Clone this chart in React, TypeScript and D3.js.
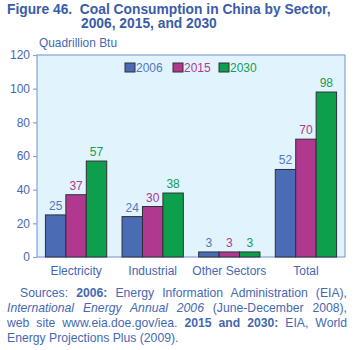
import React, { useEffect, useRef } from 'react';
import * as d3 from 'd3';

const sectors = ['Electricity', 'Industrial', 'Other Sectors', 'Total'];
const years = ['2006', '2015', '2030'];
const values2006 = [25, 24, 3, 52];
const values2015 = [37, 30, 3, 70];
const values2030 = [57, 38, 3, 98];
const yTicks = [0, 20, 40, 60, 80, 100, 120];

const barColors = ['#4a6cb4', '#b0398f', '#0d9f4c'];
const labelColors = ['#5577be', '#b0398f', '#139e50'];
const textBlue = '#4468b3';

const App = () => {
  const svgRef = useRef<SVGSVGElement>(null);

  const width = 355;
  const height = 350;

  useEffect(() => {
    const svg = d3.select(svgRef.current);
    svg.selectAll('*').remove();

    const font = 'Liberation Sans, Arial, sans-serif';
    const plot = { left: 37, right: 345, top: 55, bottom: 257 };

    const x0 = d3.scaleBand()
      .domain(sectors)
      .range([plot.left, plot.right])
      .paddingInner(0.2)
      .paddingOuter(0.11);

    const x1 = d3.scaleBand()
      .domain(years)
      .range([0, x0.bandwidth()]);

    const y = d3.scaleLinear()
      .domain([0, 120])
      .range([plot.bottom, plot.top]);

    // title
    const title = svg.append('g')
      .attr('font-family', font)
      .attr('font-weight', 'bold')
      .attr('font-size', 13.8)
      .attr('fill', '#3a5ca8');
    title.append('text').attr('x', 7).attr('y', 14).attr('xml:space', 'preserve')
      .text('Figure 46.  Coal Consumption in China by Sector,');
    title.append('text').attr('x', 81).attr('y', 28)
      .text('2006, 2015, and 2030');

    // units
    svg.append('text')
      .attr('x', 39).attr('y', 47)
      .attr('font-family', font).attr('font-size', 11.9)
      .attr('fill', textBlue)
      .text('Quadrillion Btu');

    // plot background
    svg.append('rect')
      .attr('x', plot.left).attr('y', plot.top)
      .attr('width', plot.right - plot.left)
      .attr('height', plot.bottom - plot.top)
      .attr('fill', '#e1f3fc')
      .attr('stroke', '#86a3d6')
      .attr('stroke-width', 1.2);

    // y axis
    const yAxis = d3.axisLeft(y).tickValues(yTicks).tickSize(4).tickPadding(3);
    const yg = svg.append('g')
      .attr('transform', `translate(${plot.left},0)`)
      .call(yAxis);
    yg.select('.domain').remove();
    yg.selectAll('line').attr('stroke', '#86a3d6').attr('stroke-width', 1.2);
    yg.selectAll('text')
      .attr('font-family', font).attr('font-size', 12)
      .attr('fill', textBlue);

    // x labels
    const xAxis = d3.axisBottom(x0).tickSize(0).tickPadding(9);
    const xg = svg.append('g')
      .attr('transform', `translate(0,${plot.bottom})`)
      .call(xAxis);
    xg.select('.domain').remove();
    xg.selectAll('text')
      .attr('font-family', font).attr('font-size', 12)
      .attr('fill', textBlue);

    // bars
    const series = [values2006, values2015, values2030];
    const rows = sectors.flatMap((s, i) =>
      years.map((yr, j) => ({ sector: s, year: yr, value: series[j][i], j })));

    svg.append('g')
      .selectAll('rect')
      .data(rows)
      .enter()
      .append('rect')
      .attr('x', d => (x0(d.sector) as number) + (x1(d.year) as number))
      .attr('y', d => y(d.value))
      .attr('width', x1.bandwidth())
      .attr('height', d => y(0) - y(d.value))
      .attr('fill', d => barColors[d.j])
      .attr('stroke', '#2f2f3a')
      .attr('stroke-width', 1);

    svg.append('g')
      .selectAll('text')
      .data(rows)
      .enter()
      .append('text')
      .attr('x', d => (x0(d.sector) as number) + (x1(d.year) as number) + x1.bandwidth() / 2)
      .attr('y', d => y(d.value) - 5)
      .attr('text-anchor', 'middle')
      .attr('font-family', font).attr('font-size', 12)
      .attr('fill', d => labelColors[d.j])
      .text(d => d.value);

    // legend
    const legendX = [125, 173, 219];
    const legend = svg.append('g');
    years.forEach((yr, j) => {
      legend.append('rect')
        .attr('x', legendX[j]).attr('y', 63)
        .attr('width', 10).attr('height', 9)
        .attr('fill', barColors[j])
        .attr('stroke', '#2f2f3a').attr('stroke-width', 1);
      legend.append('text')
        .attr('x', legendX[j] + 11).attr('y', 72)
        .attr('font-family', font).attr('font-size', 12)
        .attr('fill', labelColors[j])
        .text(yr);
    });

    // sources note, justified by stretching the word gaps
    const note = svg.append('g')
      .attr('font-family', font).attr('font-size', 12.2)
      .attr('fill', textBlue);

    const justify = (t: any, x: number, right: number) => {
      const node = t.node() as SVGTextElement;
      const natural = node.getComputedTextLength();
      const gaps = (node.textContent || '').split(' ').length - 1;
      if (gaps > 0) t.attr('word-spacing', (right - x - natural) / gaps);
    };

    const l1 = note.append('text').attr('x', 20).attr('y', 297);
    l1.append('tspan').text('Sources: ');
    l1.append('tspan').attr('font-weight', 'bold').text('2006:');
    l1.append('tspan').text(' Energy Information Administration (EIA),');
    justify(l1, 20, 347);

    const l2 = note.append('text').attr('x', 7).attr('y', 312);
    l2.append('tspan').attr('font-style', 'italic').text('International Energy Annual 2006');
    l2.append('tspan').text(' (June-December 2008),');
    justify(l2, 7, 347);

    const l3 = note.append('text').attr('x', 7).attr('y', 327);
    l3.append('tspan').text('web site www.eia.doe.gov/iea. ');
    l3.append('tspan').attr('font-weight', 'bold').text('2015 and 2030:');
    l3.append('tspan').text(' EIA, World');
    justify(l3, 7, 347);

    note.append('text').attr('x', 7).attr('y', 342)
      .text('Energy Projections Plus (2009).');
  }, []);

  return (
    <svg
      ref={svgRef}
      width={width}
      height={height}
      style={{ position: 'absolute', left: 0, top: 0, background: '#fff' }}
    />
  );
};

export default App;
